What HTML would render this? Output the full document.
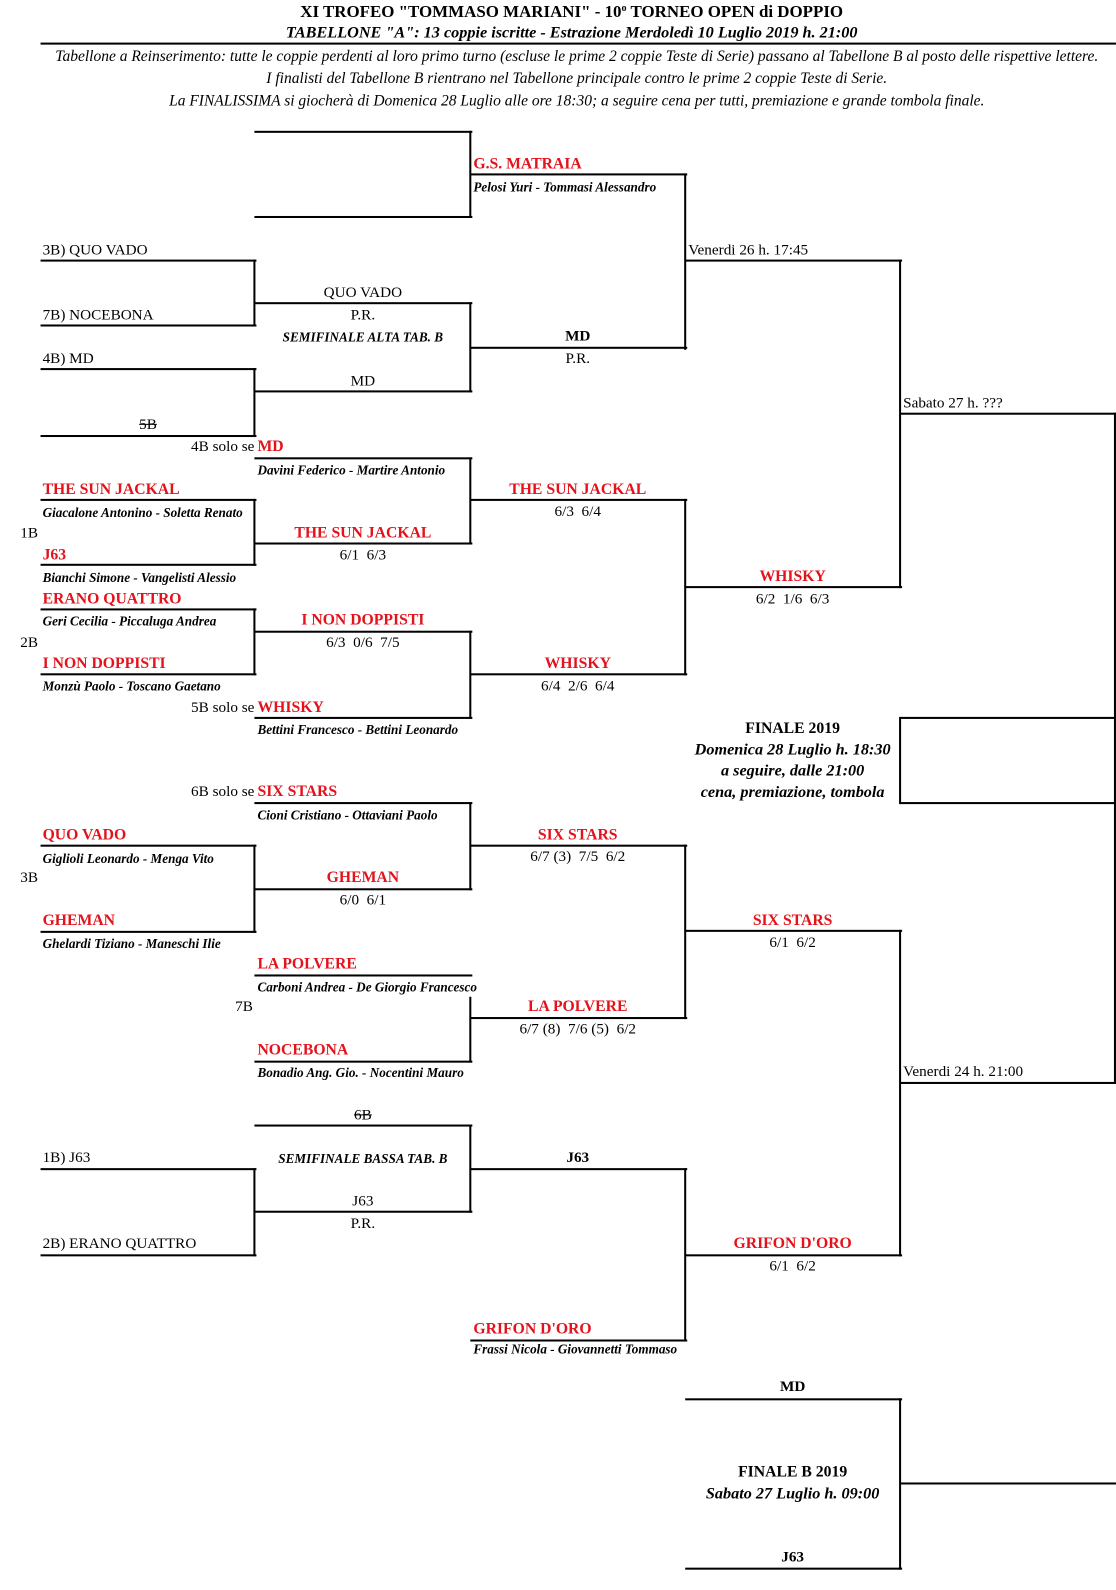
<!DOCTYPE html>
<html><head><meta charset="utf-8"><style>
html,body{margin:0;padding:0;background:#fff;}
body{width:1116px;height:1590px;overflow:hidden;position:relative;}
#w{position:absolute;left:0;top:0;width:1101px;height:1568px;transform:scale(1.0136,1.014);transform-origin:0 0;font-family:"Liberation Serif",serif;color:#000;}
.h{position:absolute;height:2px;background:#000;}
.v{position:absolute;width:2px;background:#000;}
.t{position:absolute;white-space:nowrap;font-size:15px;line-height:18px;}
.c{text-align:center;width:400px;}
.W{text-align:center;width:1100px;}
.r{color:#e3121b;font-weight:bold;font-size:15.5px;}
.n{font-style:italic;font-weight:bold;font-size:13px;}
.b{font-weight:bold;}
.s{text-decoration:line-through;}
.e{text-align:right;width:200px;}
.f{font-size:16px;}
</style></head><body><div id="w">
<div class="t W b" style="left:14px;top:3px;font-size:16.7px">XI TROFEO "TOMMASO MARIANI" - 10<span style="font-size:10px;position:relative;top:-6px">o</span> TORNEO OPEN di DOPPIO</div>
<div class="t W b" style="left:14px;top:24px;font-style:italic;font-size:16px">TABELLONE "A": 13 coppie iscritte - Estrazione Merdoledì 10 Luglio 2019 h. 21:00</div>
<div class="h" style="left:40px;top:42px;width:1061px;height:2px"></div>
<div class="t W" style="left:19px;top:47px;font-style:italic;font-size:15.3px">Tabellone a Reinserimento: tutte le coppie perdenti al loro primo turno (escluse le prime 2 coppie Teste di Serie) passano al Tabellone B al posto delle rispettive lettere.</div>
<div class="t W" style="left:19px;top:69px;font-style:italic;font-size:15.3px">I finalisti del Tabellone B rientrano nel Tabellone principale contro le prime 2 coppie Teste di Serie.</div>
<div class="t W" style="left:19px;top:91px;font-style:italic;font-size:15.3px">La FINALISSIMA si giocherà di Domenica 28 Luglio alle ore 18:30; a seguire cena per tutti, premiazione e grande tombola finale.</div>

<!-- lines -->
<div class="h" style="left:251px;top:129px;width:215px"></div>
<div class="h" style="left:251px;top:213px;width:215px"></div>
<div class="v" style="left:463px;top:129px;height:86px"></div>
<div class="h" style="left:464px;top:171px;width:214px"></div>
<div class="v" style="left:675px;top:171px;height:174px"></div>
<div class="h" style="left:40px;top:256px;width:213px"></div>
<div class="h" style="left:40px;top:320px;width:213px"></div>
<div class="v" style="left:250px;top:256px;height:66px"></div>
<div class="h" style="left:251px;top:298px;width:215px"></div>
<div class="h" style="left:251px;top:385px;width:215px"></div>
<div class="v" style="left:463px;top:298px;height:89px"></div>
<div class="h" style="left:464px;top:342px;width:214px"></div>
<div class="h" style="left:676px;top:256px;width:214px"></div>
<div class="v" style="left:887px;top:256px;height:324px"></div>
<div class="h" style="left:40px;top:363px;width:213px"></div>
<div class="h" style="left:40px;top:429px;width:213px"></div>
<div class="v" style="left:250px;top:363px;height:68px"></div>
<div class="h" style="left:251px;top:451px;width:215px"></div>
<div class="h" style="left:251px;top:535px;width:215px"></div>
<div class="v" style="left:463px;top:451px;height:86px"></div>
<div class="h" style="left:40px;top:492px;width:213px"></div>
<div class="h" style="left:40px;top:556px;width:213px"></div>
<div class="v" style="left:250px;top:492px;height:66px"></div>
<div class="h" style="left:464px;top:492px;width:214px"></div>
<div class="h" style="left:464px;top:664px;width:214px"></div>
<div class="v" style="left:675px;top:492px;height:174px"></div>
<div class="h" style="left:676px;top:578px;width:214px"></div>
<div class="h" style="left:888px;top:407px;width:213px"></div>
<div class="v" style="left:1099px;top:407px;height:662px"></div>
<div class="h" style="left:888px;top:707px;width:213px"></div>
<div class="h" style="left:888px;top:791px;width:213px"></div>
<div class="v" style="left:887px;top:707px;height:86px"></div>
<div class="h" style="left:888px;top:1067px;width:213px"></div>
<div class="v" style="left:887px;top:917px;height:322px"></div>
<div class="h" style="left:40px;top:600px;width:213px"></div>
<div class="h" style="left:40px;top:664px;width:213px"></div>
<div class="v" style="left:250px;top:600px;height:66px"></div>
<div class="h" style="left:251px;top:622px;width:215px"></div>
<div class="h" style="left:251px;top:707px;width:215px"></div>
<div class="v" style="left:463px;top:622px;height:87px"></div>
<div class="h" style="left:251px;top:791px;width:215px"></div>
<div class="h" style="left:251px;top:876px;width:215px"></div>
<div class="v" style="left:463px;top:791px;height:87px"></div>
<div class="h" style="left:40px;top:833px;width:213px"></div>
<div class="h" style="left:40px;top:918px;width:213px"></div>
<div class="v" style="left:250px;top:833px;height:87px"></div>
<div class="h" style="left:464px;top:833px;width:214px"></div>
<div class="h" style="left:464px;top:1003px;width:214px"></div>
<div class="v" style="left:675px;top:833px;height:172px"></div>
<div class="h" style="left:676px;top:917px;width:214px"></div>
<div class="h" style="left:251px;top:961px;width:215px"></div>
<div class="h" style="left:251px;top:1046px;width:215px"></div>
<div class="v" style="left:463px;top:983px;height:65px"></div>
<div class="h" style="left:251px;top:1109px;width:215px"></div>
<div class="h" style="left:251px;top:1194px;width:215px"></div>
<div class="v" style="left:463px;top:1109px;height:87px"></div>
<div class="h" style="left:40px;top:1152px;width:213px"></div>
<div class="h" style="left:40px;top:1237px;width:213px"></div>
<div class="v" style="left:250px;top:1152px;height:87px"></div>
<div class="h" style="left:464px;top:1152px;width:214px"></div>
<div class="h" style="left:464px;top:1321px;width:214px"></div>
<div class="v" style="left:675px;top:1152px;height:171px"></div>
<div class="h" style="left:676px;top:1237px;width:214px"></div>
<div class="h" style="left:676px;top:1379px;width:214px"></div>
<div class="h" style="left:676px;top:1546px;width:214px"></div>
<div class="v" style="left:887px;top:1379px;height:169px"></div>
<div class="h" style="left:888px;top:1462px;width:213px"></div>

<!-- texts -->
<div class="t r" style="left:467px;top:153px">G.S. MATRAIA</div>
<div class="t n" style="left:467px;top:176px">Pelosi Yuri - Tommasi Alessandro</div>
<div class="t" style="left:42px;top:238px">3B) QUO VADO</div>
<div class="t" style="left:42px;top:302px">7B) NOCEBONA</div>
<div class="t c" style="left:158px;top:280px">QUO VADO</div>
<div class="t c" style="left:158px;top:302px">P.R.</div>
<div class="t c n" style="left:158px;top:324px">SEMIFINALE ALTA TAB. B</div>
<div class="t c" style="left:158px;top:367px">MD</div>
<div class="t c b" style="left:370px;top:323px">MD</div>
<div class="t c" style="left:370px;top:345px">P.R.</div>
<div class="t" style="left:679px;top:238px">Venerdi 26 h. 17:45</div>
<div class="t" style="left:42px;top:345px">4B) MD</div>
<div class="t c s" style="left:-54px;top:410px">5B</div>
<div class="t e" style="left:51px;top:432px">4B solo se</div>
<div class="t r" style="left:254px;top:432px">MD</div>
<div class="t n" style="left:254px;top:455px">Davini Federico - Martire Antonio</div>
<div class="t r" style="left:42px;top:474px">THE SUN JACKAL</div>
<div class="t n" style="left:42px;top:497px">Giacalone Antonino - Soletta Renato</div>
<div class="t" style="left:20px;top:517px">1B</div>
<div class="t r" style="left:42px;top:539px">J63</div>
<div class="t n" style="left:42px;top:561px">Bianchi Simone - Vangelisti Alessio</div>
<div class="t c r" style="left:158px;top:517px">THE SUN JACKAL</div>
<div class="t c" style="left:158px;top:539px">6/1&nbsp; 6/3</div>
<div class="t c r" style="left:370px;top:474px">THE SUN JACKAL</div>
<div class="t c" style="left:370px;top:496px">6/3&nbsp; 6/4</div>
<div class="t r" style="left:42px;top:582px">ERANO QUATTRO</div>
<div class="t n" style="left:42px;top:604px">Geri Cecilia - Piccaluga Andrea</div>
<div class="t" style="left:20px;top:625px">2B</div>
<div class="t r" style="left:42px;top:646px">I NON DOPPISTI</div>
<div class="t n" style="left:42px;top:668px">Monzù Paolo - Toscano Gaetano</div>
<div class="t c r" style="left:158px;top:603px">I NON DOPPISTI</div>
<div class="t c" style="left:158px;top:625px">6/3&nbsp; 0/6&nbsp; 7/5</div>
<div class="t c r" style="left:370px;top:646px">WHISKY</div>
<div class="t c" style="left:370px;top:668px">6/4&nbsp; 2/6&nbsp; 6/4</div>
<div class="t e" style="left:51px;top:689px">5B solo se</div>
<div class="t r" style="left:254px;top:689px">WHISKY</div>
<div class="t n" style="left:254px;top:711px">Bettini Francesco - Bettini Leonardo</div>
<div class="t c r" style="left:582px;top:560px">WHISKY</div>
<div class="t c" style="left:582px;top:582px">6/2&nbsp; 1/6&nbsp; 6/3</div>
<div class="t" style="left:891px;top:389px">Sabato 27 h. ???</div>
<div class="t c b" style="left:582px;top:710px;font-size:15.5px">FINALE 2019</div>
<div class="t c b f" style="left:582px;top:731px;font-style:italic">Domenica 28 Luglio h. 18:30</div>
<div class="t c b f" style="left:582px;top:752px;font-style:italic">a seguire, dalle 21:00</div>
<div class="t c b f" style="left:582px;top:773px;font-style:italic">cena, premiazione, tombola</div>
<div class="t e" style="left:51px;top:772px">6B solo se</div>
<div class="t r" style="left:254px;top:772px">SIX STARS</div>
<div class="t n" style="left:254px;top:795px">Cioni Cristiano - Ottaviani Paolo</div>
<div class="t r" style="left:42px;top:815px">QUO VADO</div>
<div class="t n" style="left:42px;top:838px">Giglioli Leonardo - Menga Vito</div>
<div class="t" style="left:20px;top:857px">3B</div>
<div class="t r" style="left:42px;top:899px">GHEMAN</div>
<div class="t n" style="left:42px;top:922px">Ghelardi Tiziano - Maneschi Ilie</div>
<div class="t c r" style="left:158px;top:857px">GHEMAN</div>
<div class="t c" style="left:158px;top:879px">6/0&nbsp; 6/1</div>
<div class="t c r" style="left:370px;top:815px">SIX STARS</div>
<div class="t c" style="left:370px;top:836px">6/7 (3)&nbsp; 7/5&nbsp; 6/2</div>
<div class="t c r" style="left:582px;top:899px">SIX STARS</div>
<div class="t c" style="left:582px;top:921px">6/1&nbsp; 6/2</div>
<div class="t r" style="left:254px;top:942px">LA POLVERE</div>
<div class="t n" style="left:254px;top:965px">Carboni Andrea - De Giorgio Francesco</div>
<div class="t" style="left:232px;top:984px">7B</div>
<div class="t r" style="left:254px;top:1027px">NOCEBONA</div>
<div class="t n" style="left:254px;top:1049px">Bonadio Ang. Gio. - Nocentini Mauro</div>
<div class="t c r" style="left:370px;top:984px">LA POLVERE</div>
<div class="t c" style="left:370px;top:1006px">6/7 (8)&nbsp; 7/6 (5)&nbsp; 6/2</div>
<div class="t" style="left:891px;top:1048px">Venerdi 24 h. 21:00</div>
<div class="t c s" style="left:158px;top:1091px">6B</div>
<div class="t c n" style="left:158px;top:1134px">SEMIFINALE BASSA TAB. B</div>
<div class="t c" style="left:158px;top:1176px">J63</div>
<div class="t c" style="left:158px;top:1198px">P.R.</div>
<div class="t" style="left:42px;top:1133px">1B) J63</div>
<div class="t" style="left:42px;top:1218px">2B) ERANO QUATTRO</div>
<div class="t c b" style="left:370px;top:1133px">J63</div>
<div class="t c r" style="left:582px;top:1218px">GRIFON D'ORO</div>
<div class="t c" style="left:582px;top:1240px">6/1&nbsp; 6/2</div>
<div class="t r" style="left:467px;top:1302px">GRIFON D'ORO</div>
<div class="t n" style="left:467px;top:1322px">Frassi Nicola - Giovannetti Tommaso</div>
<div class="t c b" style="left:582px;top:1359px">MD</div>
<div class="t c b" style="left:582px;top:1443px;font-size:15.5px">FINALE B 2019</div>
<div class="t c b f" style="left:582px;top:1465px;font-style:italic">Sabato 27 Luglio h. 09:00</div>
<div class="t c b" style="left:582px;top:1527px">J63</div>
</div></body></html>
